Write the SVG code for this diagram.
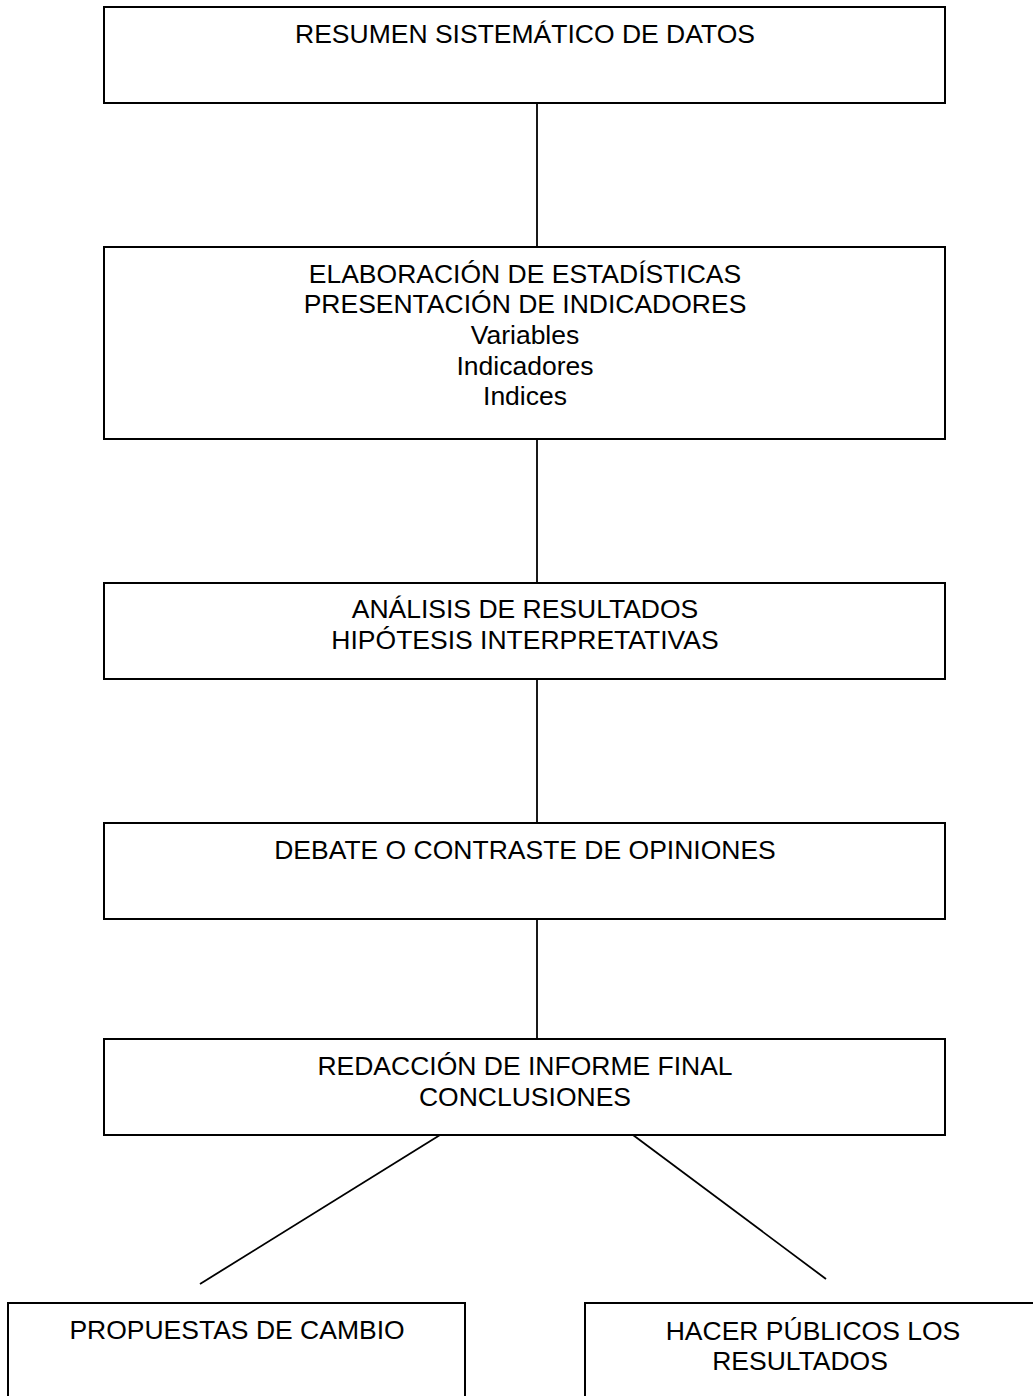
<svg xmlns="http://www.w3.org/2000/svg" width="1033" height="1396" viewBox="0 0 1033 1396">
<style>
.box{fill:#fff;stroke:#000;stroke-width:2}
.lbl{font-family:"Liberation Sans",Arial,sans-serif;font-size:26.5px;fill:#000;text-anchor:middle}
.conn line{stroke:#000;stroke-width:1.8;fill:none}
</style>
<rect width="1033" height="1396" fill="#fff"/>
<g class="conn" id="connectors">
<line x1="537" y1="103" x2="537" y2="247"/>
<line x1="537" y1="439" x2="537" y2="583"/>
<line x1="537" y1="679" x2="537" y2="823"/>
<line x1="537" y1="919" x2="537" y2="1039"/>
<line x1="440" y1="1135" x2="200" y2="1284"/>
<line x1="633" y1="1135" x2="826" y2="1279"/>
</g>
<g id="n1">
<rect class="box" x="104" y="7" width="841" height="96"/>
<text class="lbl" x="525" y="43">RESUMEN SISTEMÁTICO DE DATOS</text>
</g>
<g id="n2">
<rect class="box" x="104" y="247" width="841" height="192"/>
<text class="lbl" x="525" y="283">ELABORACIÓN DE ESTADÍSTICAS</text>
<text class="lbl" x="525" y="313">PRESENTACIÓN DE INDICADORES</text>
<text class="lbl" x="525" y="343.5">Variables</text>
<text class="lbl" x="525" y="374.5">Indicadores</text>
<text class="lbl" x="525" y="405">Indices</text>
</g>
<g id="n3">
<rect class="box" x="104" y="583" width="841" height="96"/>
<text class="lbl" x="525" y="618">ANÁLISIS DE RESULTADOS</text>
<text class="lbl" x="525" y="649">HIPÓTESIS INTERPRETATIVAS</text>
</g>
<g id="n4">
<rect class="box" x="104" y="823" width="841" height="96"/>
<text class="lbl" x="525" y="859">DEBATE O CONTRASTE DE OPINIONES</text>
</g>
<g id="n5">
<rect class="box" x="104" y="1039" width="841" height="96"/>
<text class="lbl" x="525" y="1075">REDACCIÓN DE INFORME FINAL</text>
<text class="lbl" x="525" y="1106">CONCLUSIONES</text>
</g>
<g id="n6">
<rect class="box" x="8" y="1303" width="457" height="110"/>
<text class="lbl" x="237" y="1339">PROPUESTAS DE CAMBIO</text>
</g>
<g id="n7">
<rect class="box" x="585" y="1303" width="470" height="110"/>
<text class="lbl" x="813" y="1340">HACER PÚBLICOS LOS</text>
<text class="lbl" x="800" y="1370">RESULTADOS</text>
</g>
</svg>
